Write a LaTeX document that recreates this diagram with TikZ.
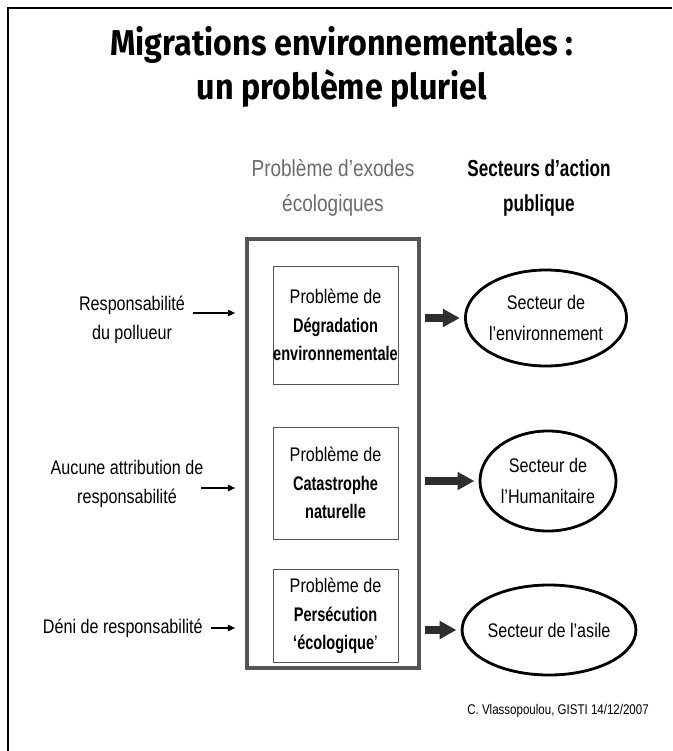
\documentclass[tikz,border=0pt]{standalone}
\usepackage{fontspec}
\setmainfont[FakeStretch=0.82,BoldFeatures={FakeStretch=0.74}]{Liberation Sans}
\newfontfamily\titlefont[FakeStretch=0.9]{Fira Sans}
\usetikzlibrary{positioning,arrows.meta,shapes.geometric}
\definecolor{boxgray}{HTML}{555555}
\definecolor{headgray}{HTML}{6B6B6B}
\definecolor{arrowdark}{HTML}{2E2E2E}
\tikzset{
    every node/.style={font=\fontsize{14}{20.5}\selectfont,inner sep=0pt},
    titletxt/.style={font=\titlefont\bfseries\fontsize{25.5}{31}\selectfont,align=center},
    headtxt/.style={font=\fontsize{16.5}{24.8}\selectfont,align=center},
    sidetxt/.style={align=center,font=\fontsize{14}{21}\selectfont},
    exodebox/.style={draw=boxgray,line width=2.8pt,minimum width=4.3cm,minimum height=10.72cm},
    probbox/.style={draw=boxgray,line width=0.6pt,minimum width=3.125cm,align=center},
    sectorell/.style={ellipse,draw=black,line width=2pt,align=center,font=\fontsize{14}{22.5}\selectfont},
    bigarrow/.style={draw=arrowdark,line width=5pt,-{Triangle[length=4.2mm,width=4.3mm]},shorten <=2.5pt,shorten >=3pt},
    smallarrow/.style={draw=black,line width=0.85pt,-{Triangle[length=1.8mm,width=1.6mm]},shorten >=7pt},
    credittxt/.style={font=\fontsize{10}{12}\selectfont}
}
\begin{document}
\begin{tikzpicture}[x=0.025cm,y=-0.025cm]
    \useasboundingbox (0,0) rectangle (672,751);
    \draw[line width=1pt] (8,751) -- (8,8) -- (672,8);

    \node[titletxt,anchor=base] (title) at (342,99) {Migrations environnementales :\\un problème pluriel};

    \node[headtxt,text=headgray] (exodehead) at (333,188) {Problème d’exodes\\écologiques};
    \node[headtxt] (sectorhead) at (539,188) {\textbf{Secteurs d’action}\\\textbf{publique}};

    \node[exodebox] (exode) at (333,453.5) {};
    \node[probbox,minimum height=2.95cm] (degr) at (335.5,325) {Problème de\\\textbf{Dégradation}\\\textbf{environnementale}};
    \node[probbox,minimum height=2.8cm] (catas) at (335.5,483) {Problème de\\\textbf{Catastrophe}\\\textbf{naturelle}};
    \node[probbox,minimum height=2.33cm] (persec) at (335.5,616) {Problème de\\\textbf{Persécution}\\\textbf{‘écologique}’};

    \node[sectorell,minimum width=3.55cm,minimum height=2.4cm] (env) at (546,318) {Secteur de\\l’environnement};
    \node[sectorell,minimum width=3.4cm,minimum height=2.5cm] (huma) at (548,481) {Secteur de\\l’Humanitaire};
    \node[sectorell,minimum width=3.5cm,minimum height=2.25cm] (asile) at (549,630) {Secteur de l’asile};

    \draw[bigarrow] (exode.east |- env.west) -- (env.west);
    \draw[bigarrow] (exode.east |- huma.west) -- (huma.west);
    \draw[bigarrow] (exode.east |- asile.west) -- (asile.west);

    \node[sidetxt] (pollueur) at (132,320) {Responsabilité\\du pollueur};
    \node[sidetxt] (aucune) at (127,484) {Aucune attribution de\\responsabilité};
    \node[sidetxt,anchor=east] (deni) at (203,628) {Déni de responsabilité};

    \coordinate (pollueur-a) at (193,313);
    \coordinate (aucune-a) at (201,488);
    \draw[smallarrow] (pollueur-a) -- (exode.west |- pollueur-a);
    \draw[smallarrow] (aucune-a) -- (exode.west |- aucune-a);
    \draw[smallarrow] ([xshift=6pt]deni.east) -- (exode.west |- deni.east);

    \node[credittxt,anchor=base east] (credit) at (649,714) {C. Vlassopoulou, GISTI 14/12/2007};
\end{tikzpicture}
\end{document}
